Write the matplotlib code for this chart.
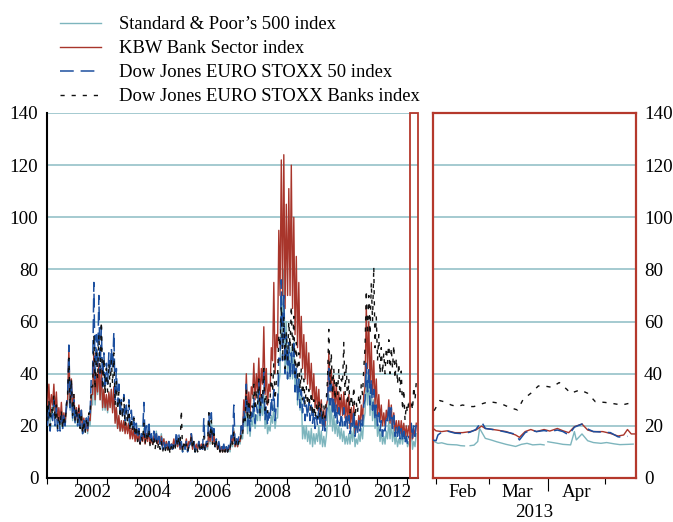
import numpy as np
import matplotlib
matplotlib.use("Agg")
import matplotlib.pyplot as plt
from matplotlib.patches import Rectangle
from matplotlib.lines import Line2D

plt.rcParams['font.family'] = ['Liberation Serif', 'DejaVu Serif']

# ---------- data: monthly low / high readings, Jan 2001 .. Apr 2013 ----------
sp500_lo = [24, 21, 24, 24, 20, 19, 19, 20, 28, 26, 22, 21,
            20, 20, 17, 18, 17, 20, 28, 28, 32, 30, 26, 26,
            25, 28, 26, 22, 19, 18, 18, 18, 18, 16, 16, 15,
            14, 14, 15, 14, 15, 13, 14, 14, 13, 14, 13, 12,
            12, 11, 12, 12, 12, 11, 10, 11, 11, 13, 11, 10,
            11, 11, 11, 11, 11, 13, 13, 12, 11, 10, 10, 10,
            10, 10, 12, 12, 12, 13, 15, 20, 17, 16, 20, 19,
            22, 22, 24, 19, 17, 18, 21, 19, 23, 40, 55, 40,
            38, 38, 38, 34, 28, 26, 15, 15, 14, 13, 12, 13,
            14, 13, 12, 12, 22, 20, 18, 17, 16, 15, 14, 13,
            13, 13, 14, 12, 13, 14, 15, 25, 28, 24, 22, 19,
            16, 14, 13, 13, 15, 15, 14, 13, 12, 13, 13, 14,
            12, 12, 11, 12]
sp500_hi = [30, 27, 33, 31, 25, 23, 24, 26, 43, 36, 28, 25,
            24, 25, 22, 23, 22, 30, 46, 38, 42, 40, 32, 30,
            32, 34, 34, 27, 23, 21, 22, 21, 22, 19, 19, 18,
            17, 16, 19, 17, 19, 15, 17, 18, 15, 17, 15, 14,
            14, 13, 14, 16, 15, 13, 12, 14, 13, 17, 14, 12,
            14, 13, 12, 13, 18, 23, 18, 14, 13, 12, 12, 12,
            12, 16, 19, 14, 14, 17, 26, 31, 26, 22, 28, 24,
            30, 28, 32, 24, 20, 24, 28, 23, 36, 70, 80, 60,
            50, 50, 52, 42, 38, 32, 20, 20, 18, 19, 17, 17,
            20, 18, 16, 16, 32, 28, 24, 22, 20, 19, 18, 16,
            17, 18, 20, 15, 17, 19, 22, 40, 38, 35, 30, 25,
            20, 18, 16, 18, 22, 21, 19, 16, 15, 17, 17, 18,
            14, 19, 14, 17]

kbw_lo = [28, 25, 28, 25, 22, 22, 20, 21, 30, 28, 25, 22,
          22, 21, 18, 18, 18, 22, 32, 30, 33, 30, 27, 27,
          26, 27, 25, 21, 19, 18, 18, 17, 17, 15, 15, 14,
          14, 13, 14, 13, 14, 13, 13, 14, 13, 13, 12, 11,
          11, 11, 12, 12, 12, 11, 11, 12, 11, 13, 11, 11,
          11, 11, 11, 11, 12, 14, 13, 12, 11, 10, 10, 10,
          10, 11, 13, 12, 12, 14, 18, 25, 24, 25, 32, 30,
          33, 30, 36, 32, 28, 33, 45, 40, 50, 70, 70, 65,
          70, 70, 65, 55, 50, 46, 42, 38, 36, 34, 30, 27,
          26, 24, 20, 20, 30, 33, 28, 27, 25, 24, 24, 23,
          21, 19, 20, 17, 18, 20, 22, 35, 42, 35, 32, 28,
          24, 22, 20, 20, 22, 21, 19, 18, 17, 17, 17, 16,
          16, 17, 15, 16]
kbw_hi = [36, 32, 36, 33, 27, 29, 25, 27, 50, 38, 32, 27,
          28, 26, 23, 22, 23, 32, 48, 40, 44, 42, 34, 32,
          33, 34, 35, 27, 24, 22, 22, 21, 21, 19, 19, 17,
          17, 16, 18, 17, 18, 15, 16, 17, 15, 16, 15, 14,
          14, 13, 15, 16, 15, 13, 13, 15, 14, 17, 14, 13,
          14, 13, 13, 13, 18, 19, 17, 14, 13, 12, 12, 12,
          12, 16, 18, 15, 15, 20, 30, 40, 33, 35, 44, 40,
          46, 42, 58, 42, 36, 50, 75, 55, 95, 122, 124, 105,
          111, 120, 100, 85, 75, 62, 55, 52, 48, 44, 40, 35,
          34, 30, 26, 28, 48, 42, 38, 36, 33, 32, 33, 30,
          32, 27, 28, 22, 24, 28, 32, 66, 60, 52, 45, 38,
          32, 28, 25, 26, 30, 28, 25, 22, 22, 22, 21, 20,
          20, 20, 19, 21]

stoxx50_lo = [20, 18, 22, 20, 18, 18, 19, 20, 32, 27, 23, 21,
              20, 20, 17, 17, 19, 25, 40, 38, 42, 40, 35, 34,
              36, 40, 42, 30, 28, 24, 24, 22, 22, 20, 19, 17,
              15, 14, 16, 15, 16, 14, 14, 13, 13, 13, 11, 11,
              11, 10, 11, 12, 13, 11, 10, 11, 10, 13, 12, 10,
              11, 11, 11, 11, 14, 16, 14, 12, 12, 11, 11, 10,
              10, 11, 15, 13, 13, 15, 17, 22, 20, 18, 22, 21,
              25, 24, 28, 22, 20, 22, 26, 22, 27, 45, 45, 40,
              38, 38, 40, 33, 30, 27, 25, 22, 23, 22, 21, 19,
              20, 21, 18, 18, 28, 28, 24, 22, 21, 20, 20, 20,
              19, 17, 19, 16, 17, 18, 20, 30, 33, 28, 26, 22,
              20, 18, 16, 18, 22, 21, 19, 16, 16, 15, 14, 13,
              13, 14, 15, 16]
stoxx50_hi = [28, 24, 30, 27, 22, 24, 25, 28, 51, 38, 30, 26,
              26, 26, 22, 23, 26, 40, 75, 55, 70, 58, 48, 44,
              48, 50, 56, 42, 36, 30, 32, 28, 30, 26, 24, 21,
              19, 17, 29, 20, 22, 17, 18, 17, 16, 16, 14, 13,
              14, 13, 14, 18, 17, 14, 13, 14, 12, 17, 14, 12,
              14, 13, 23, 14, 25, 25, 19, 15, 14, 13, 13, 12,
              13, 17, 28, 16, 16, 20, 26, 36, 28, 25, 31, 28,
              37, 31, 41, 28, 25, 31, 34, 28, 46, 76, 70, 55,
              52, 48, 53, 42, 38, 34, 31, 28, 29, 28, 26, 24,
              27, 26, 24, 25, 42, 36, 31, 28, 27, 25, 27, 25,
              24, 21, 26, 20, 22, 23, 28, 44, 42, 38, 34, 28,
              25, 22, 20, 24, 28, 27, 24, 20, 21, 19, 18, 16,
              16, 21, 20, 21]

banks_lo = [22, 20, 24, 22, 19, 20, 19, 21, 32, 28, 24, 22,
            21, 19, 17, 17, 19, 24, 35, 34, 38, 40, 34, 32,
            33, 35, 36, 28, 26, 23, 23, 20, 21, 18, 18, 16,
            14, 13, 14, 13, 14, 12, 12, 11, 11, 11, 10, 10,
            10, 9, 10, 11, 12, 12, 10, 11, 10, 12, 11, 10,
            10, 10, 10, 10, 13, 15, 13, 11, 11, 10, 10, 10,
            10, 11, 13, 12, 12, 13, 16, 22, 22, 22, 27, 26,
            28, 25, 30, 26, 25, 30, 33, 30, 38, 50, 45, 42,
            45, 50, 48, 40, 37, 34, 30, 28, 28, 26, 24, 23,
            23, 23, 22, 23, 38, 36, 32, 30, 32, 30, 36, 32,
            28, 25, 27, 23, 25, 28, 32, 50, 55, 55, 60, 50,
            45, 40, 40, 40, 44, 40, 42, 38, 36, 33, 26, 22,
            25, 26, 26, 30]
banks_hi = [30, 27, 32, 28, 24, 26, 24, 28, 46, 38, 32, 27,
            27, 25, 22, 22, 25, 35, 55, 48, 55, 60, 46, 42,
            44, 45, 48, 37, 33, 29, 31, 26, 28, 23, 23, 20,
            18, 16, 21, 17, 19, 15, 16, 15, 14, 14, 12, 12,
            13, 12, 13, 15, 16, 26, 13, 13, 12, 16, 14, 12,
            13, 12, 16, 13, 25, 22, 17, 14, 13, 12, 12, 12,
            12, 15, 18, 14, 14, 17, 24, 34, 30, 28, 36, 34,
            38, 32, 42, 32, 31, 40, 44, 37, 55, 66, 62, 56,
            60, 66, 62, 52, 48, 42, 38, 35, 34, 33, 30, 28,
            30, 29, 28, 30, 57, 48, 42, 38, 42, 38, 52, 44,
            38, 32, 35, 29, 32, 36, 42, 72, 70, 75, 81, 62,
            55, 50, 48, 50, 53, 50, 51, 46, 44, 41, 34, 28,
            30, 30, 35, 37]

# ---------- data: zoomed panel, 2013 (day of year) ----------
banks_day = [31, 34, 36, 40, 43, 46, 50, 52, 56, 60, 66, 71, 75, 78, 82, 86, 89,
             93, 97, 101, 103, 108, 112, 116, 121, 125, 130, 136]
banks_val = [25.8, 29.7, 29.3, 28.0, 27.4, 28.0, 27.4, 27.4, 28.4, 29.3, 28.6, 27.0,
             26.1, 30.2, 32.5, 35.3, 35.3, 34.8, 36.6, 34.0, 32.5, 33.8, 32.5, 29.3,
             29.0, 28.6, 28.0, 29.0]

kbw_day = [30, 32, 35, 38, 42, 46, 50, 53, 56, 58, 64, 69, 74, 76, 79, 82, 85, 89,
           92, 96, 99, 102, 105, 109, 112, 115, 120, 124, 128, 131, 133, 135, 137]
kbw_val = [19.3, 18.1, 17.8, 18.1, 17.4, 17.4, 17.8, 18.4, 19.9, 19.0, 18.4, 17.8,
           16.5, 15.6, 17.8, 18.6, 17.8, 18.6, 18.0, 19.0, 18.1, 17.4, 19.7, 20.7,
           18.4, 17.8, 17.8, 17.1, 16.1, 16.5, 18.6, 16.9, 16.9]

s50_day = [30, 32, 33, 35, 38, 42, 46, 50, 53, 56, 58, 64, 69, 74, 76, 79, 82, 85,
           89, 92, 96, 99, 102, 105, 109, 112, 115, 120, 124, 128, 131, 133]
s50_val = [14.6, 14.3, 16.5, 17.6, 18.0, 17.2, 17.0, 17.6, 18.6, 21.6, 19.0, 18.4,
           17.6, 16.8, 14.6, 17.4, 18.4, 17.8, 18.2, 17.8, 18.4, 17.8, 16.5, 19.5,
           20.7, 18.8, 17.8, 17.6, 17.4, 15.8, 15.6, 16.0]

sp_day = [30, 31, 33, 35, 38, 40, 43, 45, 47, 48, 50, 52, 54, 55, 58, 61, 64, 69,
          74, 77, 80, 83, 87, 89, 90, 91, 96, 99, 103, 105, 106, 109, 112, 115,
          119, 122, 126, 129, 133, 136]
sp_val = [14.6, 14.0, 13.3, 13.5, 12.9, 12.8, 12.7, 12.4, 12.3, np.nan, 12.4, 12.6,
          14.0, 19.0, 15.2, 14.6, 13.9, 12.9, 12.1, 12.9, 13.3, 12.7, 12.9, 12.7,
          np.nan, 13.9, 13.3, 12.9, 12.7, 17.8, 14.6, 16.9, 14.3, 13.6, 13.3, 13.6,
          13.1, 12.8, 12.9, 13.0]

labels = ["Standard & Poor\u2019s 500 index", "KBW Bank Sector index",
          "Dow Jones EURO STOXX 50 index", "Dow Jones EURO STOXX Banks index"]
year_ticks = list(range(2001, 2014))
year_labels = ["2002", "2004", "2006", "2008", "2010", "2012"]
month_labels = ["Feb", "Mar", "Apr"]

# ---------- styling ----------
C_TEAL = '#7db5bd'
C_RED = '#a8352b'
C_BLUE = '#1c4f9f'
C_BLACK = '#111111'
C_GRID = '#8bbcc3'
C_FRAME = '#b5382c'
FS = 13.7

styles = [dict(color=C_TEAL, lw=1.0, ls='-', zorder=2),
          dict(color=C_RED, lw=1.0, ls='-', zorder=3),
          dict(color=C_BLUE, lw=1.1, ls=(0, (9, 4.5)), zorder=4),
          dict(color=C_BLACK, lw=1.0, ls=(0, (3, 5)), zorder=5)]


def band_xy(lo, hi):
    """Plot the monthly low and high readings one after the other."""
    n = len(lo)
    x = np.empty(2 * n)
    y = np.empty(2 * n)
    x[0::2] = 2001 + (np.arange(n) + 0.25) / 12.0
    x[1::2] = 2001 + (np.arange(n) + 0.75) / 12.0
    y[0::2] = lo
    y[1::2] = hi
    return x, y


fig = plt.figure(figsize=(6.73, 5.22), dpi=100)
W, H = 673, 522
axL = fig.add_axes([47 / W, 1 - 478 / H, (418 - 47) / W, 365 / H])
axR = fig.add_axes([433 / W, 1 - 478 / H, (636 - 433) / W, 365 / H])

# left panel
for (lo, hi), st in zip([(sp500_lo, sp500_hi), (kbw_lo, kbw_hi),
                         (stoxx50_lo, stoxx50_hi), (banks_lo, banks_hi)], styles):
    x, y = band_xy(lo, hi)
    axL.plot(x, y, **st)

axL.set_xlim(2001.0, 2013.37)
axL.set_ylim(0, 140)
axL.set_yticks(range(0, 141, 20))
for v in range(20, 141, 20):
    axL.axhline(v, color=C_GRID, lw=1.1, zorder=1)
axL.set_xticks(year_ticks)
axL.set_xticklabels([])
axL.set_xticks([int(y) + 0.5 for y in year_labels], minor=True)
axL.set_xticklabels(year_labels, minor=True)
axL.tick_params(axis='x', which='major', direction='out', length=4, width=0.8)
axL.tick_params(axis='x', which='minor', length=0, pad=4.5, labelsize=FS)
axL.tick_params(axis='y', length=0, pad=6.3, labelsize=FS)
for s in ['top', 'right']:
    axL.spines[s].set_visible(False)
axL.spines['left'].set_linewidth(1.5)
axL.spines['bottom'].set_linewidth(1.5)
axL.add_patch(Rectangle((2013.09, 0), 2013.37 - 2013.09 - 0.012, 140, fill=False,
                        edgecolor=C_FRAME, lw=1.3, zorder=6, clip_on=False))

# right panel
axR.plot(sp_day, sp_val, **styles[0])
axR.plot(kbw_day, kbw_val, **styles[1])
axR.plot(s50_day, s50_val, **styles[2])
axR.plot(banks_day, banks_val, **styles[3])
axR.set_xlim(30.4, 137.5)
axR.set_ylim(0, 140)
for v in range(20, 121, 20):
    axR.axhline(v, color=C_GRID, lw=1.1, zorder=1)
axR.yaxis.tick_right()
axR.set_yticks(range(0, 141, 20))
axR.tick_params(axis='y', length=0, pad=5.8, labelsize=FS)
axR.set_xticks([46, 75, 106])
axR.set_xticklabels(month_labels)
axR.set_xticks([32, 60, 121], minor=True)
axR.tick_params(axis='x', which='major', length=0, pad=4.5, labelsize=FS)
axR.tick_params(axis='x', which='minor', direction='out', length=4, width=0.8)
sec = axR.secondary_xaxis('bottom')
sec.set_xticks([91])
sec.set_xticklabels([''])
sec.tick_params(axis='x', direction='out', length=9, width=0.8)
sec.spines['bottom'].set_visible(False)
axR.set_xlabel("2013", fontsize=FS, labelpad=2)
for s in axR.spines.values():
    s.set_edgecolor(C_FRAME)
    s.set_linewidth(1.6)

# legend
handles = [Line2D([], [], **{k: v for k, v in st.items() if k != 'zorder'}) for st in styles]
fig.legend(handles, labels, loc='upper left', bbox_to_anchor=(60 / W, 1 - 16 / H),
           frameon=False, fontsize=13.4, handlelength=2.2, handletextpad=0.95,
           labelspacing=0.38, borderpad=0, borderaxespad=0)

fig.savefig("out.png", dpi=100)
